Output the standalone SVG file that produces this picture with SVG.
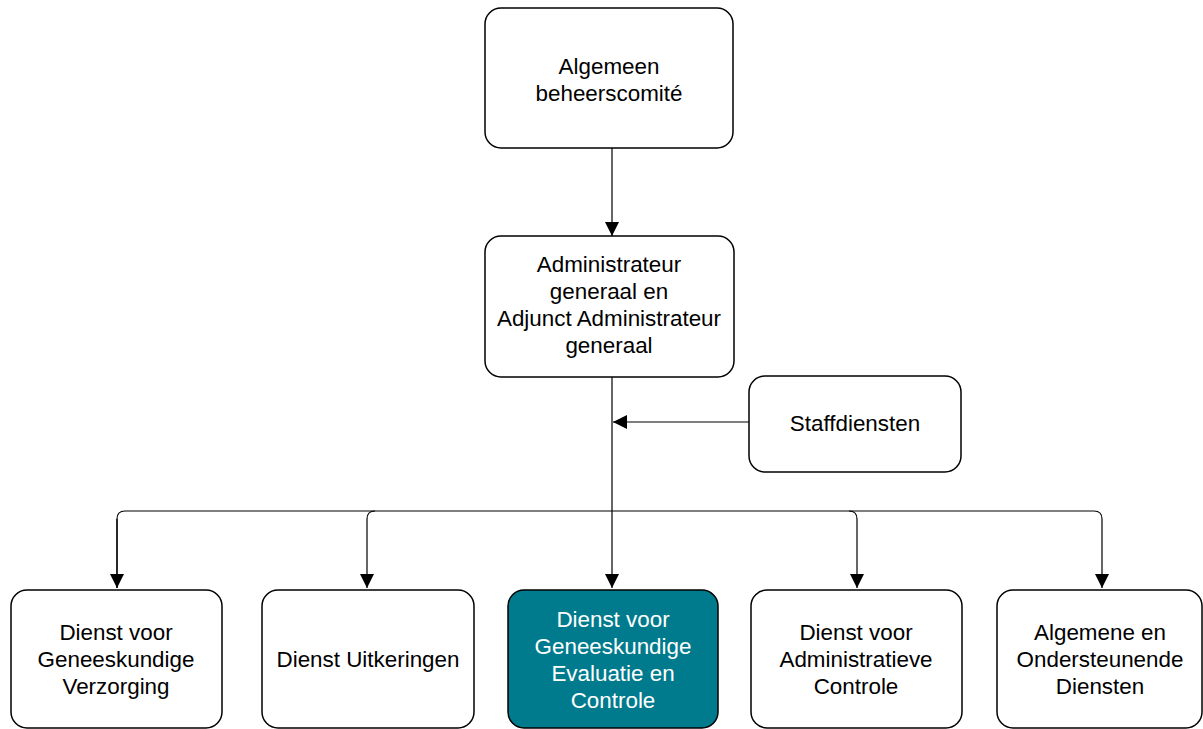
<svg xmlns="http://www.w3.org/2000/svg" width="1203" height="729" viewBox="0 0 1203 729">
<style>
.box{fill:#fff;stroke:#000;stroke-width:1.5}
.hl{fill:#007B8D;stroke:#000;stroke-width:1.5}
.t{font-family:"Liberation Sans",Arial,sans-serif;font-size:22.4px;fill:#000;text-anchor:middle}
.tw{fill:#fff}
.c{fill:none;stroke:#000;stroke-width:1.2}
</style>
<defs>
<marker id="ah" markerUnits="userSpaceOnUse" markerWidth="14" markerHeight="16" viewBox="0 0 14 16" refX="14" refY="8" orient="auto">
<path d="M0,1 L14,8 L0,15 Z" fill="#000"/>
</marker>
</defs>
<g id="connectors">
<path class="c" d="M612,148 V236" marker-end="url(#ah)"/>
<path class="c" d="M749,422 H613" marker-end="url(#ah)"/>
<path class="c" d="M612,377 V588" marker-end="url(#ah)"/>
<path class="c" d="M117,588 V519 Q117,511 125,511 H1094 Q1102,511 1102,519 V588" marker-end="url(#ah)"/>
<path class="c" d="M117,519 V588" marker-end="url(#ah)"/>
<path class="c" d="M375,511 Q367,511 367,519 V588" marker-end="url(#ah)"/>
<path class="c" d="M849,511 Q857,511 857,519 V588" marker-end="url(#ah)"/>
</g>
<g id="n-algemeen">
<rect class="box" x="485" y="8" width="248" height="140" rx="16"/>
<text class="t" x="609" y="74">Algemeen</text>
<text class="t" x="609" y="101">beheerscomité</text>
</g>
<g id="n-admin">
<rect class="box" x="485" y="236" width="249" height="141" rx="16"/>
<text class="t" x="609" y="272">Administrateur</text>
<text class="t" x="609" y="299">generaal en</text>
<text class="t" x="609" y="326">Adjunct Administrateur</text>
<text class="t" x="609" y="353">generaal</text>
</g>
<g id="n-staff">
<rect class="box" x="749" y="376" width="212" height="96" rx="16"/>
<text class="t" x="855" y="431">Staffdiensten</text>
</g>
<g id="n-verzorging">
<rect class="box" x="11" y="590" width="211" height="138" rx="16"/>
<text class="t" x="116" y="640">Dienst voor</text>
<text class="t" x="116" y="667">Geneeskundige</text>
<text class="t" x="116" y="694">Verzorging</text>
</g>
<g id="n-uitkeringen">
<rect class="box" x="262" y="590" width="212" height="138" rx="16"/>
<text class="t" x="368" y="667">Dienst Uitkeringen</text>
</g>
<g id="n-evaluatie">
<rect class="hl" x="508" y="590" width="210" height="138" rx="16"/>
<text class="t tw" x="613" y="627">Dienst voor</text>
<text class="t tw" x="613" y="654">Geneeskundige</text>
<text class="t tw" x="613" y="681">Evaluatie en</text>
<text class="t tw" x="613" y="708">Controle</text>
</g>
<g id="n-admcontrole">
<rect class="box" x="751" y="590" width="211" height="138" rx="16"/>
<text class="t" x="856" y="640">Dienst voor</text>
<text class="t" x="856" y="667">Administratieve</text>
<text class="t" x="856" y="694">Controle</text>
</g>
<g id="n-algemene">
<rect class="box" x="997" y="590" width="205" height="138" rx="16"/>
<text class="t" x="1100" y="640">Algemene en</text>
<text class="t" x="1100" y="667">Ondersteunende</text>
<text class="t" x="1100" y="694">Diensten</text>
</g>
</svg>
